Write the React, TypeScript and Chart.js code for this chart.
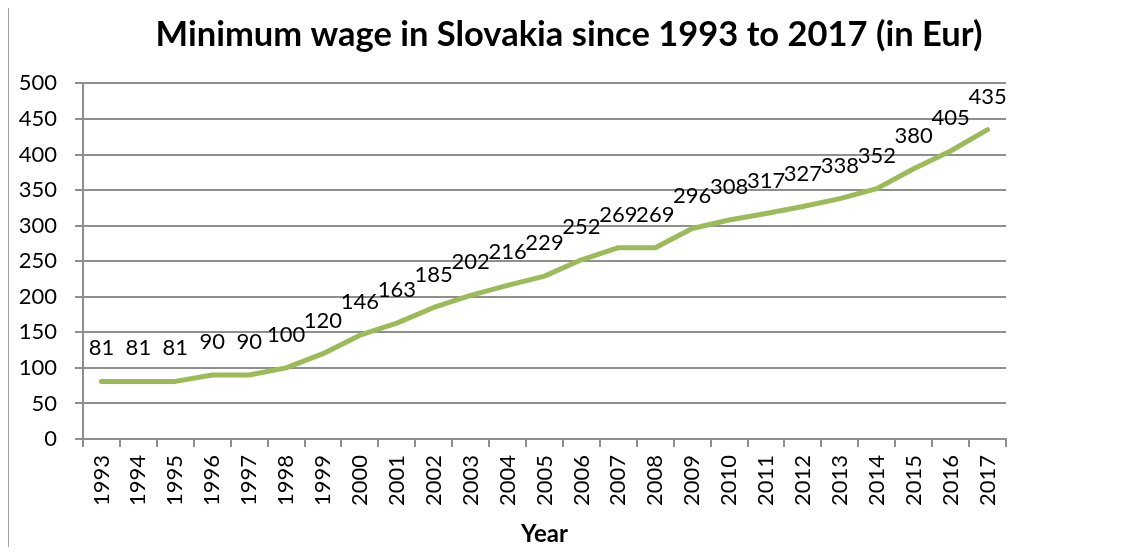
import React, { useEffect, useRef } from "react";
import { Chart, registerables } from "chart.js";

Chart.register(...registerables);

const years: string[] = [
  "1993", "1994", "1995", "1996", "1997", "1998", "1999", "2000", "2001",
  "2002", "2003", "2004", "2005", "2006", "2007", "2008", "2009", "2010",
  "2011", "2012", "2013", "2014", "2015", "2016", "2017",
];
const minimumWage: number[] = [
  81, 81, 81, 90, 90, 100, 120, 146, 163, 185, 202, 216, 229, 252, 269, 269,
  296, 308, 317, 327, 338, 352, 380, 405, 435,
];
const yMin = 0;
const yMax = 500;
const yStep = 50;

const titleText = "Minimum wage in Slovakia since 1993 to 2017 (in Eur)";
const xTitleText = "Year";

const FONT = "Lato";
const GRID = "#8f8f8f";

const dataLabels = {
  id: "dataLabels",
  afterDatasetsDraw(chart: any) {
    const ctx = chart.ctx;
    const meta = chart.getDatasetMeta(0);
    const ds = chart.data.datasets[0];
    ctx.save();
    ctx.font = `22px ${FONT}`;
    ctx.fillStyle = "#000";
    ctx.textAlign = "center";
    ctx.textBaseline = "middle";
    meta.data.forEach((pt: any, i: number) => {
      ctx.fillText(String(ds.data[i]), pt.x, pt.y - 33);
    });
    ctx.restore();
  },
};

export default function App() {
  const ref = useRef<HTMLCanvasElement | null>(null);
  useEffect(() => {
    if (!ref.current) return;
    const chart = new Chart(ref.current, {
      type: "line",
      data: {
        labels: years,
        datasets: [
          {
            data: minimumWage,
            borderColor: "#9bbb59",
            backgroundColor: "#9bbb59",
            borderWidth: 5,
            pointRadius: 0,
            tension: 0,
            borderJoinStyle: "round",
            borderCapStyle: "round",
            yAxisID: "y",
          },
        ],
      },
      options: {
        responsive: false,
        animation: false,
        layout: { padding: 0 },
        plugins: {
          legend: { display: false },
          tooltip: { enabled: false },
          title: {
            display: true,
            text: titleText,
            color: "#000",
            font: { family: FONT, size: 34.5, weight: "bold", lineHeight: 1.2 },
            padding: { top: 14, bottom: 28 },
          },
        },
        scales: {
          x: {
            offset: true,
            grid: {
              display: true,
              drawOnChartArea: false,
              drawTicks: true,
              tickLength: 8,
              offset: true,
              color: GRID,
              lineWidth: 2,
            },
            border: { display: true, color: GRID, width: 2 },
            ticks: {
              autoSkip: false,
              minRotation: 90,
              maxRotation: 90,
              padding: 8,
              color: "#000",
              font: { family: FONT, size: 22 },
            },
            title: {
              display: true,
              text: xTitleText,
              color: "#000",
              font: { family: FONT, size: 24, weight: "bold", lineHeight: 1.2 },
              padding: { top: 0, bottom: 6 },
            },
            afterFit: (s: any) => {
              s.height = 116;
            },
          },
          y: {
            position: "left",
            min: yMin,
            max: yMax,
            grid: {
              color: GRID,
              lineWidth: 2,
              tickLength: 8,
              drawTicks: true,
            },
            border: { display: true, color: GRID, width: 2 },
            ticks: {
              stepSize: yStep,
              padding: 18,
              color: "#000",
              font: { family: FONT, size: 22 },
            },
            afterFit: (s: any) => {
              s.width = 83;
            },
          },
          yRight: {
            position: "right",
            display: true,
            grid: { display: false },
            border: { display: false },
            ticks: { display: false },
            afterFit: (s: any) => {
              s.width = 132;
            },
          },
        },
      },
      plugins: [dataLabels],
    } as any);
    return () => chart.destroy();
  }, []);

  return (
    <div style={{ position: "relative", width: 1138, height: 555, margin: -8 }}>
      <div
        style={{
          position: "absolute",
          left: 7,
          top: 5,
          width: 1131,
          height: 550,
          borderTop: "2px solid #a0a0a0",
          borderLeft: "2px solid #a0a0a0",
          boxSizing: "border-box",
        }}
      />
      <canvas
        ref={ref}
        width={1138}
        height={555}
        style={{ position: "absolute", left: 0, top: 0 }}
      />
    </div>
  );
}
